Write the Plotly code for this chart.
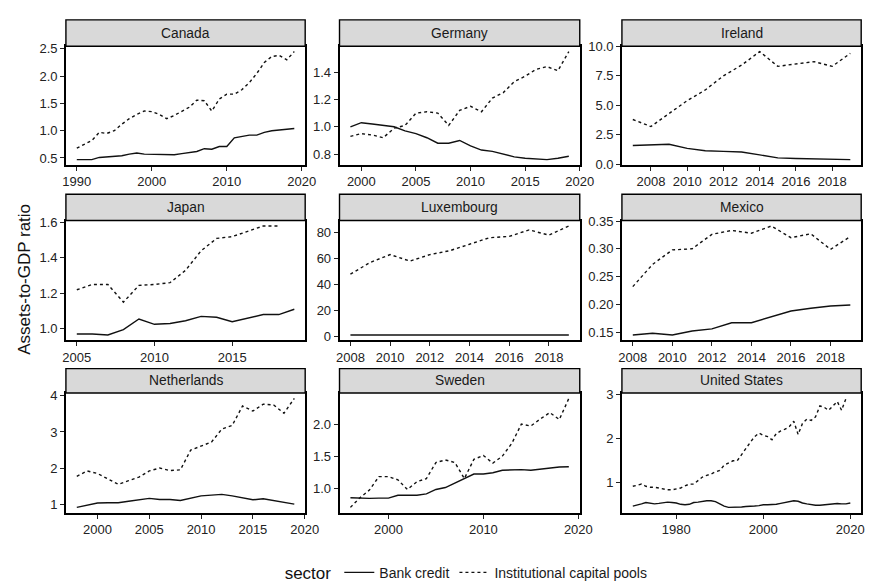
import plotly.graph_objects as go

# ---------------- data ----------------
countries = ["Canada", "Germany", "Ireland", "Japan", "Luxembourg", "Mexico",
             "Netherlands", "Sweden", "United States"]

canada_years = list(range(1990, 2020))
canada_bank = [0.47, 0.47, 0.47, 0.51, 0.52, 0.53, 0.54, 0.57, 0.59, 0.57,
               0.57, 0.57, 0.57, 0.56, 0.58, 0.60, 0.62, 0.67, 0.66, 0.71,
               0.71, 0.87, 0.90, 0.92, 0.92, 0.97, 1.00, 1.01, 1.02, 1.04]
canada_inst = [0.68, 0.75, 0.82, 0.97, 0.95, 1.00, 1.12, 1.22, 1.30, 1.36,
               1.35, 1.30, 1.22, 1.28, 1.35, 1.43, 1.56, 1.55, 1.36, 1.58,
               1.67, 1.67, 1.75, 1.88, 2.05, 2.25, 2.36, 2.38, 2.30, 2.45]

germany_years = list(range(1999, 2020))
germany_bank = [1.00, 1.03, 1.02, 1.01, 1.00, 0.97, 0.95, 0.92, 0.88, 0.88,
                0.90, 0.86, 0.83, 0.82, 0.80, 0.78, 0.77, 0.765, 0.76, 0.77, 0.785]
germany_inst = [0.93, 0.95, 0.94, 0.92, 0.99, 1.01, 1.10, 1.11, 1.10, 1.01,
                1.12, 1.15, 1.11, 1.21, 1.25, 1.33, 1.37, 1.42, 1.44, 1.41, 1.55]

ireland_years = list(range(2007, 2020))
ireland_bank = [1.60, 1.65, 1.70, 1.35, 1.15, 1.10, 1.05, 0.80, 0.55, 0.50, 0.45, 0.42, 0.40]
ireland_inst = [3.80, 3.20, 4.30, 5.40, 6.30, 7.50, 8.40, 9.55, 8.30, 8.50, 8.70, 8.30, 9.40]

japan_bank_years = list(range(2005, 2020))
japan_bank = [0.97, 0.97, 0.965, 0.995, 1.055, 1.025, 1.03, 1.045, 1.07, 1.065,
              1.04, 1.06, 1.08, 1.08, 1.11]
japan_inst_years = list(range(2005, 2019))
japan_inst = [1.22, 1.25, 1.25, 1.15, 1.245, 1.25, 1.26, 1.33, 1.44, 1.51,
              1.52, 1.55, 1.58, 1.58]

luxembourg_years = list(range(2008, 2020))
luxembourg_bank = [1.2, 1.2, 1.2, 1.2, 1.2, 1.2, 1.2, 1.2, 1.2, 1.2, 1.2, 1.2]
luxembourg_inst = [48, 57, 63, 58, 63, 66, 71, 76, 77, 82, 78, 85]

mexico_years = list(range(2008, 2020))
mexico_bank = [0.145, 0.148, 0.145, 0.152, 0.156, 0.167, 0.167, 0.178, 0.188,
               0.193, 0.197, 0.199]
mexico_inst = [0.232, 0.272, 0.298, 0.300, 0.326, 0.333, 0.328, 0.341, 0.320,
               0.327, 0.299, 0.322]

netherlands_years = list(range(1998, 2020))
netherlands_bank = [0.91, 0.97, 1.03, 1.04, 1.04, 1.08, 1.12, 1.16, 1.13, 1.13,
                    1.10, 1.17, 1.23, 1.25, 1.27, 1.23, 1.17, 1.12, 1.15, 1.10,
                    1.05, 1.00]
netherlands_inst = [1.77, 1.92, 1.85, 1.70, 1.55, 1.65, 1.75, 1.92, 2.00, 1.93,
                    1.95, 2.50, 2.62, 2.72, 3.08, 3.18, 3.72, 3.58, 3.77, 3.75,
                    3.52, 3.93]

sweden_years = list(range(1996, 2020))
sweden_bank = [0.85, 0.84, 0.84, 0.845, 0.845, 0.89, 0.89, 0.89, 0.91, 0.98,
               1.01, 1.08, 1.15, 1.22, 1.22, 1.24, 1.28, 1.29, 1.29, 1.28,
               1.30, 1.32, 1.33, 1.335]
sweden_inst = [0.70, 0.85, 0.97, 1.18, 1.18, 1.13, 0.98, 1.10, 1.15, 1.40,
               1.44, 1.40, 1.15, 1.45, 1.51, 1.39, 1.50, 1.70, 2.00, 1.97,
               2.08, 2.18, 2.07, 2.40]

us_bank_years = list(range(1970, 2021))
us_bank = [0.47, 0.49, 0.52, 0.55, 0.53, 0.52, 0.53, 0.55, 0.56, 0.55,
           0.54, 0.51, 0.50, 0.51, 0.55, 0.56, 0.58, 0.59, 0.59, 0.57,
           0.52, 0.47, 0.44, 0.44, 0.45, 0.45, 0.46, 0.46, 0.47, 0.48,
           0.50, 0.50, 0.50, 0.51, 0.53, 0.55, 0.57, 0.59, 0.58, 0.54,
           0.52, 0.50, 0.49, 0.49, 0.50, 0.51, 0.53, 0.53, 0.52, 0.52, 0.54]
us_inst_years = list(range(1970, 2020))
us_inst = [0.92, 0.95, 0.97, 0.92, 0.90, 0.90, 0.88, 0.87, 0.84, 0.84,
           0.86, 0.88, 0.93, 0.97, 0.97, 1.05, 1.13, 1.17, 1.20, 1.25,
           1.28, 1.40, 1.45, 1.50, 1.50, 1.65, 1.78, 1.92, 2.05, 2.13,
           2.08, 2.05, 1.98, 2.12, 2.18, 2.22, 2.28, 2.40, 2.10, 2.35,
           2.45, 2.42, 2.50, 2.75, 2.72, 2.65, 2.75, 2.85, 2.65, 2.92]

series = {
    "Canada": (canada_years, canada_bank, canada_years, canada_inst),
    "Germany": (germany_years, germany_bank, germany_years, germany_inst),
    "Ireland": (ireland_years, ireland_bank, ireland_years, ireland_inst),
    "Japan": (japan_bank_years, japan_bank, japan_inst_years, japan_inst),
    "Luxembourg": (luxembourg_years, luxembourg_bank, luxembourg_years, luxembourg_inst),
    "Mexico": (mexico_years, mexico_bank, mexico_years, mexico_inst),
    "Netherlands": (netherlands_years, netherlands_bank, netherlands_years, netherlands_inst),
    "Sweden": (sweden_years, sweden_bank, sweden_years, sweden_inst),
    "United States": (us_bank_years, us_bank, us_inst_years, us_inst),
}

sector_names = ["Bank credit", "Institutional capital pools"]

# ---------------- styling / layout ----------------
W, H = 877, 582
FONT = "Liberation Sans, Arial, sans-serif"
col_px = [(56, 300), (335, 580), (623, 867)]
row_px = [(32, 154), (211, 334), (388, 511)]
strip_px = [(5, 32), (184, 211), (363, 388)]

# per panel: x dtick, y tick0, y dtick, y format
tick_cfg = {
    "Canada": (10, 0.5, 0.5, ".1f"),
    "Germany": (5, 0.8, 0.2, ".1f"),
    "Ireland": (2, 0.0, 2.5, ".1f"),
    "Japan": (5, 1.0, 0.2, ".1f"),
    "Luxembourg": (2, 0, 20, "d"),
    "Mexico": (2, 0.15, 0.05, ".2f"),
    "Netherlands": (5, 1, 1, "d"),
    "Sweden": (10, 1.0, 0.5, ".1f"),
    "United States": (20, 1, 1, "d"),
}


def px_x(p):
    return p / W


def px_y(p):
    return 1 - p / H


def expand(vals, frac=0.05):
    lo, hi = min(vals), max(vals)
    d = (hi - lo) * frac
    return [lo - d, hi + d]


fig = go.Figure()
layout = dict(
    width=W, height=H,
    margin=dict(l=0, r=0, t=0, b=0),
    paper_bgcolor="white", plot_bgcolor="white",
    font=dict(family=FONT, size=13, color="#222222"),
    showlegend=True,
)
shapes = []
annotations = []

for i, c in enumerate(countries):
    r, k = divmod(i, 3)
    n = i + 1
    xa = "x" if n == 1 else f"x{n}"
    ya = "y" if n == 1 else f"y{n}"
    bx, by, ix, iy = series[c]
    for j, (xs, ys) in enumerate([(bx, by), (ix, iy)]):
        fig.add_trace(go.Scatter(
            x=xs, y=ys, mode="lines", xaxis=xa, yaxis=ya,
            name=sector_names[j], legendgroup=sector_names[j],
            showlegend=(i == 0),
            line=dict(color="#111111", width=1.4,
                      dash="solid" if j == 0 else "3px,3px"),
            hoverinfo="skip",
        ))
    xdt, yt0, ydt, yfmt = tick_cfg[c]
    x0, x1 = col_px[k]
    ytop, ybot = row_px[r]
    common = dict(showline=True, linecolor="black", linewidth=1.6, mirror=True,
                  ticks="outside", ticklen=4, tickwidth=1.1, tickcolor="#222222",
                  showgrid=False, zeroline=False,
                  tickfont=dict(family=FONT, size=13, color="#222222"))
    layout["xaxis" if n == 1 else f"xaxis{n}"] = dict(
        domain=[px_x(x0), px_x(x1)], anchor=ya,
        range=expand(bx + ix), tick0=0, dtick=xdt, **common)
    layout["yaxis" if n == 1 else f"yaxis{n}"] = dict(
        domain=[px_y(ybot), px_y(ytop)], anchor=xa,
        range=expand(by + iy), tick0=yt0, dtick=ydt, tickformat=yfmt, **common)
    s0, s1 = strip_px[r]
    shapes.append(dict(type="rect", xref="paper", yref="paper",
                       x0=px_x(x0), x1=px_x(x1), y0=px_y(s1), y1=px_y(s0),
                       fillcolor="#d9d9d9", line=dict(color="black", width=1.4),
                       layer="above"))
    annotations.append(dict(text=c, xref="paper", yref="paper",
                            x=px_x((x0 + x1) / 2), y=px_y((s0 + s1) / 2),
                            xanchor="center", yanchor="middle", showarrow=False,
                            font=dict(family=FONT, size=13.8, color="#1a1a1a")))

annotations.append(dict(text="Assets-to-GDP ratio", xref="paper", yref="paper",
                        x=px_x(13), y=px_y(271), textangle=-90,
                        xanchor="center", yanchor="middle", showarrow=False,
                        font=dict(family=FONT, size=17, color="#111111")))

layout["shapes"] = shapes
layout["annotations"] = annotations
layout["legend"] = dict(
    orientation="h", x=0.531, xanchor="center", y=px_y(573), yanchor="middle",
    title=dict(text="sector", font=dict(family=FONT, size=17, color="#111111")),
    font=dict(family=FONT, size=14, color="#1a1a1a"),
    itemwidth=30, bgcolor="rgba(0,0,0,0)",
)
fig.update_layout(**layout)
fig.write_html("out.html")
